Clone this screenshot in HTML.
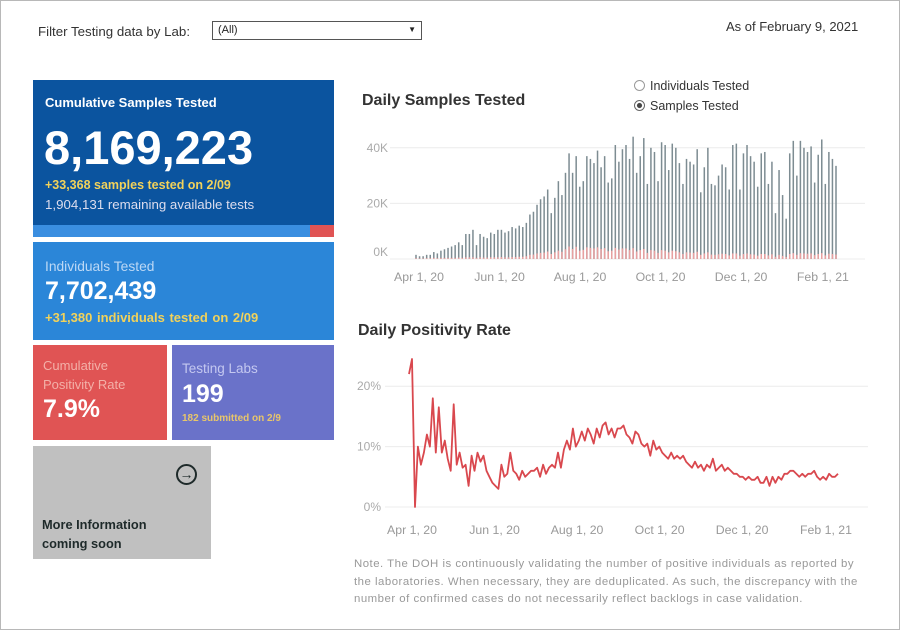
<!DOCTYPE html>
<html><head><meta charset="utf-8"><style>
body{margin:0;width:900px;height:630px;overflow:hidden;background:#fff;font-family:"Liberation Sans",sans-serif;}
.frame{position:absolute;left:0;top:0;width:898px;height:628px;border:1px solid #b8b8b8;}
.abs{position:absolute;white-space:nowrap;}
.card{position:absolute;color:#fff;box-sizing:border-box;}
.yel{color:#f2d25a;font-weight:bold;}
</style></head><body>
<div class="frame"></div>
<div class="abs" style="left:38px;top:24px;font-size:13.3px;color:#333">Filter Testing data by Lab:</div>
<div class="abs" style="left:212px;top:21px;width:210px;height:19px;border:1px solid #555;font-size:11px;color:#222;box-sizing:border-box;padding:2px 5px">(All)<span style="position:absolute;right:5px;top:3px;font-size:8px">▼</span></div>
<div class="abs" style="left:726px;top:19px;font-size:13px;color:#333">As of February 9, 2021</div>

<div class="card" style="left:33px;top:80px;width:301px;height:157px;background:#0b549f">
 <div class="abs" style="left:12px;top:15px;font-size:13px;font-weight:bold">Cumulative Samples Tested</div>
 <div class="abs" style="left:11px;top:40px;font-size:47px;font-weight:bold">8,169,223</div>
 <div class="abs yel" style="left:12px;top:98px;font-size:12.5px">+33,368 samples tested on 2/09</div>
 <div class="abs" style="left:12px;top:117px;font-size:13.3px;color:#dde">1,904,131 remaining available tests</div>
 <div class="abs" style="left:0;top:145px;width:277px;height:12px;background:#3a8ee0"></div>
 <div class="abs" style="left:277px;top:145px;width:24px;height:12px;background:#e05454"></div>
</div>
<div class="card" style="left:33px;top:242px;width:301px;height:98px;background:#2b86d8">
 <div class="abs" style="left:12px;top:17px;font-size:13.8px;color:#bcd8f5">Individuals Tested</div>
 <div class="abs" style="left:12px;top:35px;font-size:25px;font-weight:bold">7,702,439</div>
 <div class="abs yel" style="left:12px;top:68px;font-size:13px;word-spacing:1px">+31,380 individuals tested on 2/09</div>
</div>
<div class="card" style="left:33px;top:345px;width:134px;height:95px;background:#e05454">
 <div class="abs" style="left:10px;top:11px;font-size:13px;color:#f3b0a8;line-height:19px">Cumulative<br>Positivity Rate</div>
 <div class="abs" style="left:10px;top:50px;font-size:25px;font-weight:bold">7.9%</div>
</div>
<div class="card" style="left:172px;top:345px;width:162px;height:95px;background:#6a72c9">
 <div class="abs" style="left:10px;top:16px;font-size:13.5px;color:#c4c8f0">Testing Labs</div>
 <div class="abs" style="left:10px;top:35px;font-size:25px;font-weight:bold">199</div>
 <div class="abs" style="left:10px;top:68px;font-size:10px;font-weight:bold;color:#e8c66a">182 submitted on 2/9</div>
</div>
<div class="card" style="left:33px;top:446px;width:178px;height:113px;background:#c0c0c0;color:#1e2a2a">
 <div class="abs" style="left:143px;top:18px;width:21px;height:21px;border:2px solid #1e2a2a;border-radius:50%;box-sizing:border-box;font-size:14px;line-height:16px;text-align:center;font-weight:bold">→</div>
 <div class="abs" style="left:9px;top:69px;font-size:12.8px;font-weight:bold;line-height:19px">More Information<br>coming soon</div>
</div>

<div class="abs" style="left:362px;top:92px;font-size:16px;font-weight:bold;color:#333">Daily Samples Tested</div>
<div class="abs" style="left:634px;top:76px;font-size:12.5px;color:#333;line-height:20px">
 <div><span style="display:inline-block;width:9px;height:9px;border:1px solid #999;border-radius:50%;margin-right:5px;vertical-align:-1px"></span>Individuals Tested</div>
 <div><span style="display:inline-block;width:9px;height:9px;border:1px solid #666;border-radius:50%;margin-right:5px;vertical-align:-1px;background:radial-gradient(#444 35%,#fff 45%)"></span>Samples Tested</div>
</div>
<div class="abs" style="left:358px;top:322px;font-size:16px;font-weight:bold;color:#333">Daily Positivity Rate</div>
<div class="abs" style="left:354px;top:556px;font-size:11.4px;letter-spacing:0.5px;color:#999;line-height:17.5px">Note. The DOH is continuously validating the number of positive individuals as reported by<br>the laboratories. When necessary, they are deduplicated. As such, the discrepancy with the<br>number of confirmed cases do not necessarily reflect backlogs in case validation.</div>

<svg class="abs" style="left:0;top:0" width="900" height="630" id="charts"></svg>
<script>
const sampleValues=[1.5,1,1,1.5,1.5,2.5,2,3,3.5,4,4.5,5,6,5,9,9,10.5,5,9,8,7.5,9.5,9,10.5,10.5,9.5,10,11.5,11,12,11.5,13,16,17,19.5,21.5,22.5,25,16.5,22,28,23,31,38,31,37,26,28,37,36,34.5,39,33,37,27.5,29,41,35,39.5,41,36,44,31,37,43.5,27,40,38.5,28,42,41,32,41.5,40,34.5,27,36,35,34,39.5,24,33,40,27,26.5,30,34,33,25,41,41.5,25,38,41,37,35,26,38,38.5,27,35,16.5,32,23,14.5,38,42.5,30,42.5,40,38.5,40.5,27.5,37.5,43,27,38.5,36,33.5];
const positiveValues=[0.3,0.2,0.2,0.3,0.3,0.4,0.3,0.4,0.4,0.4,0.4,0.4,0.5,0.4,0.6,0.6,0.6,0.4,0.6,0.5,0.5,0.6,0.6,0.6,0.7,0.6,0.6,0.7,0.7,0.8,0.8,1,1.5,1.6,2,2.2,2.3,2.7,1.8,2.4,3,2.6,3.5,4.5,3.6,4.4,3,3.3,4.2,4,3.8,4.2,3.6,3.9,2.8,3,4,3.4,3.8,3.8,3.2,3.9,2.7,3.2,3.6,2.2,3.2,3,2.2,3.2,3,2.4,3,2.8,2.4,1.8,2.4,2.3,2.2,2.6,1.5,2,2.4,1.6,1.5,1.7,1.9,1.8,1.3,2,2,1.2,1.8,2,1.7,1.6,1.2,1.8,1.8,1.3,1.7,0.8,1.5,1.1,0.7,1.8,2.1,1.5,2.1,2,1.9,2,1.4,1.8,2.1,1.3,1.9,1.8,1.6];
const sampleTicks=[0,20,40];
const dateTicks=["Apr 1, 20","Jun 1, 20","Aug 1, 20","Oct 1, 20","Dec 1, 20","Feb 1, 21"];
const dateTickDays=[0,61,122,183,244,306];
const rateValues=[22,24.5,0,10,7,9,12,10,18,9,16.5,9,11,8,6,17,7,9,6.5,7,3.5,8.5,6,9,7.5,8.5,6,5,4,3.5,3,7,5,5.5,9,6,5.5,4.5,6,5,5.5,6,6,6.5,5,7,5.5,6.5,7,6.5,9,6.5,9.5,11,9.5,13,10,11,12.5,11,13,12,10.5,13,11.5,13.5,14,12,13,11.5,13,13,13.5,12,11.5,10.5,12.5,12,10.5,10,10.5,8.5,11,9.5,10,9,8.5,8,9,8,8.5,8,8.5,7.5,7,6.5,7.5,6.5,7,6,7,6.5,8,6,6.5,7,6,6.5,6,5.5,5.5,5,5,4.5,5,4.5,4.5,5,4,4,5,3.5,5,4,5,4.5,5.5,5.5,6,6,5.5,5,5.5,5,5.5,5.5,6,5,4.5,5,4.5,5.5,5,5,5.5];
const rateTicks=[0,10,20];

const NS="http://www.w3.org/2000/svg", svg=document.getElementById('charts');
function mk(tag,attrs,txt){const e=document.createElementNS(NS,tag);for(const k in attrs)e.setAttribute(k,attrs[k]);if(txt!=null)e.textContent=txt;svg.appendChild(e);return e;}
const bx=d=>419+d*1.32, by=v=>259-v*2.78;
const bxi=i=>416+i*(836-416)/(sampleValues.length-1);
sampleTicks.forEach(t=>{
 const g=mk('line',{x1:390,x2:865,y1:by(t),y2:by(t),stroke:'#ececec'});
 
 
 const l=mk('text',{x:388,y:by(t)+(t===0?-3:4),'text-anchor':'end','font-size':12,fill:'#aaa'},t+'K');
 
 
});
sampleValues.forEach((v,i)=>{
 const r=mk('rect',{x:bxi(i)-0.75,y:by(v),width:1.5,height:by(0)-by(v),fill:'#7d8c92'});
 
 
 const p=positiveValues[i]||0;
 const q=mk('rect',{x:bxi(i)-0.75,y:by(p),width:1.5,height:by(0)-by(p),fill:'#e8a0a0'});
 
 
});
dateTicks.forEach((t,i)=>{
 const l=mk('text',{x:bx(dateTickDays[i]),y:281,'text-anchor':'middle','font-size':12.3,fill:'#999'},t);
 
 
});
const lx=d=>412+d*1.353, ly=v=>507-v*6.04;
const lxi=i=>409+i*(838-409)/(rateValues.length-1);
rateTicks.forEach(t=>{
 const g=mk('line',{x1:385,x2:868,y1:ly(t),y2:ly(t),stroke:'#ececec'});
 
 
 const l=mk('text',{x:381,y:ly(t)+4,'text-anchor':'end','font-size':12,fill:'#aaa'},t+'%');
 
 
});
const pl=mk('polyline',{points:rateValues.map((v,i)=>lxi(i).toFixed(1)+','+ly(v).toFixed(1)).join(' '),fill:'none',stroke:'#d9484e','stroke-width':1.8,'stroke-linejoin':'round'});


dateTicks.forEach((t,i)=>{
 const l=mk('text',{x:lx(dateTickDays[i]),y:534,'text-anchor':'middle','font-size':12.3,fill:'#999'},t);
 
 
});
</script>
</body></html>
